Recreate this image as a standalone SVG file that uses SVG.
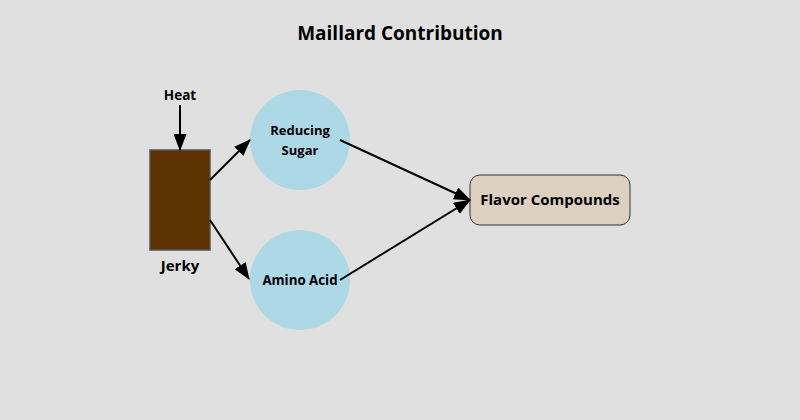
<svg xmlns="http://www.w3.org/2000/svg" width="800" height="420" viewBox="0 0 800 420">
<defs>
<style>
text{font-family:"Open Sans","Noto Sans","DejaVu Sans",sans-serif;font-weight:bold;fill:#000;text-anchor:middle}
.c{fill:#add8e6}
.e{stroke:#000;stroke-width:2;fill:none;marker-end:url(#ah)}
</style>
<marker id="ah" viewBox="0 0 17 13" refX="16" refY="6.5" markerWidth="17" markerHeight="13" markerUnits="userSpaceOnUse" orient="auto"><path d="M0,0 L17,6.5 L0,13 z" fill="#000"/></marker>
</defs>
<rect width="800" height="420" fill="#e0e0e0"/>
<text x="400" y="40" font-size="19">Maillard Contribution</text>
<g id="heat"><text x="180" y="100" font-size="13.5">Heat</text></g>
<g id="jerky">
<rect x="150" y="150" width="60" height="100" fill="#5c3300" stroke="#555" stroke-width="1.5"/>
<text x="180" y="271" font-size="15">Jerky</text>
</g>
<g id="sugar">
<circle class="c" cx="300" cy="140" r="50"/>
<text x="300" y="135" font-size="13">Reducing</text>
<text x="300" y="155" font-size="13">Sugar</text>
</g>
<g id="amino">
<circle class="c" cx="300" cy="280" r="50"/>
<text x="300" y="285" font-size="13.3">Amino Acid</text>
</g>
<g id="flavor">
<rect x="470" y="175" width="160" height="50" rx="10" fill="#dcd0c0" stroke="#333" stroke-width="1"/>
<text x="550" y="205" font-size="15">Flavor Compounds</text>
</g>
<g id="connectors">
<line class="e" x1="180" y1="105" x2="180" y2="150"/>
<line class="e" x1="210" y1="180" x2="250" y2="140"/>
<line class="e" x1="210" y1="220" x2="249" y2="279"/>
<line class="e" x1="340" y1="140" x2="470" y2="200"/>
<line class="e" x1="340" y1="280" x2="470" y2="200"/>
</g>
</svg>
